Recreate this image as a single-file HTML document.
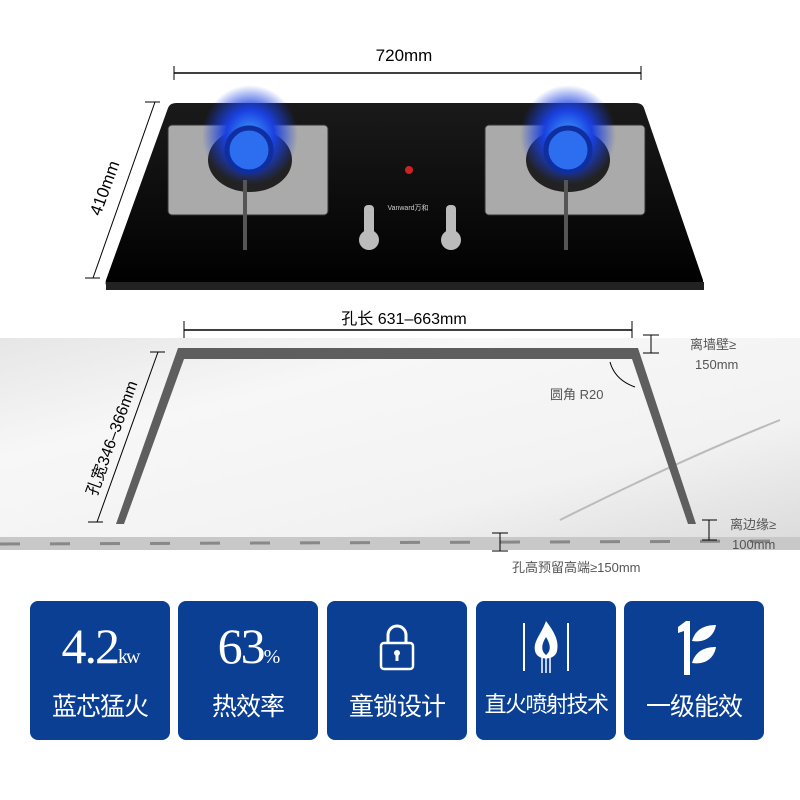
<!DOCTYPE html>
<html><head><meta charset="utf-8"><style>
body{margin:0;width:800px;height:800px;background:#fff;overflow:hidden;font-family:"Liberation Sans","Noto Sans CJK SC",sans-serif}
.b{position:absolute;top:601px;width:140px;height:139px;background:#0b3f93;border-radius:8px;color:#fff;text-align:center}
.b .t{position:absolute;top:86px;left:0;right:0;font-size:25px;letter-spacing:-1px;white-space:nowrap}
.b .n{position:absolute;top:16px;left:0;right:0;font-family:"Liberation Serif",serif;font-size:50px;letter-spacing:-2px}
</style></head><body>
<svg width="800" height="800" style="position:absolute;left:0;top:0" font-family="Liberation Sans, Noto Sans CJK SC, sans-serif">
<defs>
<linearGradient id="m" x1="0" y1="0" x2="1" y2="1"><stop offset="0" stop-color="#e6e6e6"/><stop offset=".3" stop-color="#f7f7f7"/><stop offset=".7" stop-color="#f2f2f2"/><stop offset="1" stop-color="#dcdcdc"/></linearGradient>
<linearGradient id="g" x1="0" y1="0" x2="0" y2="1"><stop offset="0" stop-color="#1a1a1a"/><stop offset="1" stop-color="#000"/></linearGradient>
<radialGradient id="f"><stop offset="0" stop-color="#3fa0ff"/><stop offset=".5" stop-color="#1a40e0"/><stop offset="1" stop-color="#1a40e0" stop-opacity="0"/></radialGradient>
</defs>
<line x1="174" y1="73" x2="641" y2="73" stroke="#000" stroke-width="1.5"/>
<line x1="174" y1="66" x2="174" y2="80" stroke="#000"/><line x1="641" y1="66" x2="641" y2="80" stroke="#000"/>
<text x="404" y="61" font-size="17" text-anchor="middle">720mm</text>
<line x1="155" y1="102" x2="93" y2="278" stroke="#000"/>
<line x1="145" y1="102" x2="160" y2="102" stroke="#000"/><line x1="85" y1="278" x2="100" y2="278" stroke="#000"/>
<text transform="translate(110,190) rotate(-70)" font-size="17" text-anchor="middle">410mm</text>
<path d="M176,103 L636,103 Q642,103 644,108 L703,280 Q704,288 696,288 L112,288 Q104,288 106,280 L168,108 Q170,103 176,103Z" fill="url(#g)"/>
<path d="M106,282 L704,282 L704,290 L106,290Z" fill="#222"/>
<g fill="#aaa" stroke="#333"><rect x="168" y="125" width="160" height="90" rx="4"/><rect x="485" y="125" width="160" height="90" rx="4"/></g>
<ellipse cx="250" cy="160" rx="42" ry="32" fill="#222"/><ellipse cx="568" cy="160" rx="42" ry="32" fill="#222"/>
<ellipse cx="250" cy="135" rx="48" ry="50" fill="url(#f)"/><ellipse cx="568" cy="135" rx="48" ry="50" fill="url(#f)"/>
<circle cx="249" cy="150" r="22" fill="#2d6df0" stroke="#0f2ea0" stroke-width="5"/><circle cx="568" cy="150" r="22" fill="#2d6df0" stroke="#0f2ea0" stroke-width="5"/>
<g stroke="#555" stroke-width="4"><line x1="245" y1="180" x2="245" y2="250"/><line x1="566" y1="180" x2="566" y2="250"/></g>
<circle cx="409" cy="170" r="4" fill="#c22"/>
<g fill="#bbb"><rect x="364" y="205" width="10" height="30" rx="4"/><rect x="446" y="205" width="10" height="30" rx="4"/><circle cx="369" cy="240" r="10"/><circle cx="451" cy="240" r="10"/></g>
<text x="408" y="210" font-size="7" fill="#ccc" text-anchor="middle">Vanward万和</text>
<rect x="0" y="338" width="800" height="200" fill="url(#m)"/>
<rect x="0" y="537" width="800" height="13" fill="#c8c8c8"/>
<path d="M0,544 L800,541" stroke="#888" stroke-width="3" stroke-dasharray="20 30"/>
<path d="M560,520 Q680,460 780,420" stroke="#bbb" fill="none" stroke-width="2"/>
<path d="M116,524 L178,348 L638,348 L696,524 L688,524 L632,359 L184,359 L124,524Z" fill="#5e5e5e"/>
<line x1="184" y1="330" x2="632" y2="330" stroke="#000" stroke-width="1.5"/>
<line x1="184" y1="321" x2="184" y2="338" stroke="#000"/><line x1="632" y1="321" x2="632" y2="338" stroke="#000"/>
<text x="404" y="324" font-size="16" text-anchor="middle">孔长 631–663mm</text>
<line x1="158" y1="352" x2="97" y2="522" stroke="#000"/>
<line x1="150" y1="352" x2="165" y2="352" stroke="#000"/><line x1="88" y1="522" x2="103" y2="522" stroke="#000"/>
<text transform="translate(117,440) rotate(-70)" font-size="16" text-anchor="middle">孔宽346–366mm</text>
<g stroke="#000"><line x1="651" y1="335" x2="651" y2="353"/><line x1="643" y1="335" x2="659" y2="335"/><line x1="643" y1="353" x2="659" y2="353"/>
<line x1="709" y1="520" x2="709" y2="540"/><line x1="702" y1="520" x2="717" y2="520"/><line x1="702" y1="540" x2="717" y2="540"/>
<line x1="500" y1="533" x2="500" y2="551"/><line x1="492" y1="533" x2="508" y2="533"/><line x1="492" y1="551" x2="508" y2="551"/></g>
<path d="M610,362 Q615,380 635,387" stroke="#000" fill="none"/>
<g font-size="13" fill="#555"><text x="690" y="349">离墙壁≥</text><text x="695" y="369">150mm</text>
<text x="550" y="399">圆角 R20</text>
<text x="730" y="529">离边缘≥</text><text x="732" y="549">100mm</text>
<text x="512" y="572">孔高预留高端≥150mm</text></g>
</svg>
<div class="b" style="left:30px"><div class="n">4.2<span style="font-size:20px">kw</span></div><div class="t">蓝芯猛火</div></div>
<div class="b" style="left:178px"><div class="n">63<span style="font-size:20px">%</span></div><div class="t">热效率</div></div>
<div class="b" style="left:327px"><svg style="position:absolute;left:52px;top:22px" width="36" height="48"><path d="M9,20 V12 a9,9 0 0 1 18,0 V20" stroke="#fff" stroke-width="3" fill="none"/><rect x="2" y="20" width="32" height="26" rx="3" stroke="#fff" stroke-width="2.5" fill="none"/><circle cx="18" cy="30" r="3" fill="#fff"/><rect x="16.5" y="30" width="3" height="8" fill="#fff"/></svg><div class="t">童锁设计</div></div>
<div class="b" style="left:476px"><svg style="position:absolute;left:45px;top:18px" width="50" height="56"><line x1="3" y1="4" x2="3" y2="52" stroke="#fff" stroke-width="2"/><line x1="47" y1="4" x2="47" y2="52" stroke="#fff" stroke-width="2"/><path d="M25,2 C34,14 38,22 36,32 C34,42 16,42 14,32 C12,22 20,16 25,2Z" fill="#fff"/><path d="M25,18 C30,26 30,32 25,36 C20,32 20,26 25,18Z" fill="#0b3f93"/><g stroke="#fff" stroke-width="1.5"><line x1="21" y1="36" x2="21" y2="54"/><line x1="25" y1="36" x2="25" y2="54"/><line x1="29" y1="36" x2="29" y2="54"/></g></svg><div class="t" style="font-size:22px;letter-spacing:-1.5px">直火喷射技术</div></div>
<div class="b" style="left:624px"><svg style="position:absolute;left:50px;top:18px" width="44" height="58"><path d="M4,8 L12,2 L16,2 L16,56 L10,56 L10,12 L4,14Z" fill="#fff"/><path d="M18,22 C22,8 34,6 42,6 C40,18 30,24 18,22Z" fill="#fff"/><path d="M18,44 C22,30 34,28 42,28 C40,40 30,46 18,44Z" fill="#fff"/></svg><div class="t">一级能效</div></div>
</body></html>
